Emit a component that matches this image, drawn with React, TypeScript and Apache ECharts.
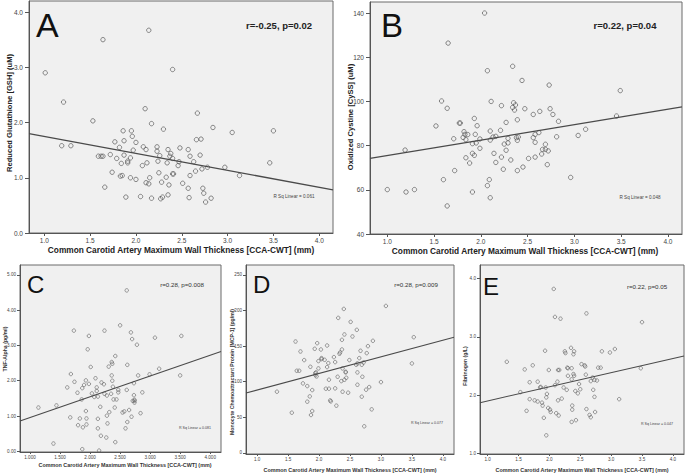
import React, { useEffect, useRef } from "react";
import * as echarts from "echarts";

// ---------- DATA ----------
// Panel A: CCA-CWT (mm) vs Reduced Glutathione [GSH] (uM)
const pointsA: number[][] = [
  [1.01, 2.9], [1.21, 2.37], [1.19, 1.58], [1.29, 1.58], [1.53, 2.03], [1.64, 3.5], [2.14, 3.67],
  [2.4, 2.96], [2.1, 2.25], [2.17, 1.98], [2.3, 1.88], [2.67, 2.17], [2.84, 1.91], [3.05, 1.82],
  [3.5, 1.85], [3.46, 1.27], [3.13, 1.04], [2.97, 1.19], [2.78, 1.19], [2.72, 1.16], [2.71, 1.7],
  [2.66, 1.69], [2.7, 1.41], [2.63, 1.29], [2.59, 1.39], [2.57, 1.51], [2.48, 1.54], [2.65, 1.12],
  [2.59, 1.04], [2.73, 0.81], [2.74, 0.72], [2.76, 0.56], [2.82, 0.63], [2.58, 0.64], [2.57, 0.81],
  [2.51, 0.9], [2.4, 1.07], [2.41, 1.07], [2.46, 1.22], [2.47, 1.29], [2.4, 1.35], [2.37, 1.39],
  [2.38, 1.44], [2.35, 1.51], [2.23, 1.56], [2.23, 1.48], [2.26, 1.4], [2.24, 1.3], [2.34, 1.27],
  [2.33, 1.01], [2.25, 1.09], [2.28, 0.92], [2.36, 0.87], [2.35, 0.69], [2.29, 0.65], [2.27, 0.62],
  [2.17, 0.63], [2.05, 0.66], [1.89, 0.65], [2.14, 0.89], [2.11, 0.91], [2.15, 1.0], [2.12, 1.27],
  [2.07, 1.22], [2.11, 1.51], [2.08, 1.56], [2.0, 1.64], [1.97, 1.5], [1.96, 1.75], [1.95, 1.85],
  [1.86, 1.85], [1.87, 1.67], [1.77, 1.65], [1.82, 1.55], [1.87, 1.41], [1.94, 1.36], [1.91, 1.3],
  [1.91, 1.27], [1.84, 1.26], [1.79, 1.35], [1.72, 1.42], [1.62, 1.39], [1.59, 1.39], [1.64, 1.39],
  [1.74, 1.1], [1.83, 1.03], [1.85, 1.04], [1.94, 1.0], [2.0, 0.97], [1.66, 0.83]
];
const fitA: number[][] = [[0.833, 1.8], [4.15, 0.78]];

// Panel B: CCA-CWT (mm) vs Oxidized Cystine [CySS] (uM)
const pointsB: number[][] = [
  [1.0, 60.1], [1.2, 59.0], [1.29, 60.1], [1.19, 78.0], [1.52, 88.9], [1.58, 100.2], [1.64, 96.9],
  [1.65, 126.4], [1.6, 64.6], [1.64, 52.7], [1.72, 68.7], [1.71, 83.1], [1.77, 90.2], [1.78, 90.2],
  [1.82, 86.3], [1.81, 83.7], [1.84, 82.7], [1.83, 85.1], [1.86, 85.0], [1.84, 74.5], [1.88, 72.1],
  [1.91, 76.5], [1.93, 75.6], [1.93, 92.3], [1.96, 89.0], [1.91, 80.9], [1.95, 81.2], [1.94, 85.1],
  [1.99, 78.8], [1.99, 83.0], [1.91, 59.0], [2.04, 140.0], [2.07, 113.9], [2.11, 100.0], [2.1, 82.5],
  [2.1, 86.6], [2.13, 83.9], [2.14, 76.5], [2.16, 72.4], [2.16, 84.2], [2.07, 61.9], [2.09, 64.6],
  [2.1, 56.4], [2.21, 86.9], [2.22, 98.1], [2.27, 90.5], [2.25, 80.7], [2.27, 77.9], [2.29, 81.2],
  [2.29, 83.3], [2.22, 74.8], [2.24, 69.3], [2.32, 73.5], [2.34, 115.9], [2.34, 97.3], [2.35, 99.4],
  [2.36, 96.1], [2.37, 98.4], [2.38, 83.6], [2.4, 83.9], [2.39, 82.4], [2.39, 91.7], [2.39, 68.7],
  [2.44, 109.5], [2.47, 96.7], [2.45, 70.3], [2.51, 74.2], [2.56, 94.1], [2.56, 83.6], [2.58, 85.1],
  [2.58, 81.5], [2.62, 85.9], [2.58, 74.8], [2.63, 95.5], [2.65, 76.2], [2.66, 78.3], [2.69, 80.6],
  [2.69, 78.3], [2.72, 77.6], [2.73, 107.4], [2.71, 71.4], [2.74, 96.7], [2.77, 94.1], [2.83, 91.0],
  [2.81, 84.0], [2.96, 65.6], [3.04, 84.6], [3.12, 87.4], [3.45, 93.4], [3.49, 104.9]
];
const fitB: number[][] = [[0.815, 74.2], [4.15, 97.5]];

// Panel C: CCA-CWT (mm) vs TNF-Alpha (pg/ml)
const pointsC: number[][] = [
  [1.14, 1.24], [1.39, 0.22], [1.44, 1.3], [1.62, 1.81], [1.68, 2.19], [1.67, 0.96], [1.73, 3.42],
  [1.74, 1.97], [1.79, 1.66], [1.8, 0.74], [1.83, 0.93], [1.86, 1.47], [1.87, 1.79], [1.88, 0.68],
  [1.87, 0.06], [1.9, 1.88], [1.93, 2.01], [1.93, 1.14], [1.94, 0.76], [1.94, 0.93], [1.96, 2.89],
  [1.98, 1.91], [1.98, 3.27], [2.01, 2.39], [2.03, 1.64], [2.07, 1.54], [2.09, 2.07], [2.11, 1.81],
  [2.11, 1.71], [2.13, 1.55], [2.13, 0.92], [2.13, 0.65], [2.15, 0.02], [2.17, 1.26], [2.19, 1.95],
  [2.18, 0.44], [2.24, 3.42], [2.23, 1.9], [2.24, 1.63], [2.27, 0.39], [2.28, 1.58], [2.28, 1.01],
  [2.29, 0.79], [2.31, 2.4], [2.32, 1.11], [2.35, 1.63], [2.36, 2.15], [2.37, 2.48], [2.36, 2.53],
  [2.37, 2.0], [2.38, 1.83], [2.39, 1.47], [2.41, 1.24], [2.42, 2.7], [2.42, 0.26], [2.44, 1.47],
  [2.47, 1.67], [2.47, 1.74], [2.5, 3.57], [2.54, 1.1], [2.57, 1.13], [2.59, 0.65], [2.61, 4.56],
  [2.61, 1.74], [2.62, 2.45], [2.62, 0.83], [2.65, 1.17], [2.68, 3.37], [2.7, 3.18], [2.69, 0.98],
  [2.71, 1.43], [2.73, 1.59], [2.73, 1.93], [2.74, 1.43], [2.74, 1.38], [2.74, 1.46], [2.78, 3.02],
  [2.8, 2.15], [2.84, 1.08], [2.87, 1.67], [2.99, 2.18], [3.08, 3.22], [3.15, 2.34], [3.5, 2.15],
  [3.52, 3.27]
];
const fitC: number[][] = [[0.833, 0.86], [4.18, 2.83]];

// Panel D: CCA-CWT (mm) vs MCP-1 (pg/ml)
const pointsD: number[][] = [
  [1.32, 86.0], [1.56, 56.5], [1.62, 156.5], [1.7, 142.5], [1.64, 115.4], [1.68, 115.4], [1.76, 130.4],
  [1.74, 97.7], [1.81, 93.9], [1.81, 72.0], [1.85, 79.4], [1.86, 121.0], [1.87, 53.3], [1.89, 58.9],
  [1.89, 88.3], [1.93, 146.3], [1.94, 109.3], [1.94, 112.1], [1.95, 113.1], [1.96, 107.5], [1.97, 154.2],
  [1.99, 118.7], [1.99, 129.0], [2.03, 145.3], [2.04, 131.8], [2.04, 133.2], [2.09, 130.8], [2.11, 90.2],
  [2.13, 150.9], [2.15, 126.2], [2.13, 120.6], [2.16, 102.8], [2.16, 90.2], [2.18, 73.8], [2.19, 72.4],
  [2.24, 134.6], [2.26, 127.6], [2.26, 90.7], [2.28, 66.4], [2.3, 107.0], [2.31, 189.7], [2.33, 139.3],
  [2.34, 141.1], [2.36, 100.9], [2.37, 145.3], [2.37, 158.9], [2.38, 118.7], [2.38, 86.0], [2.4, 202.3],
  [2.41, 166.4], [2.41, 102.8], [2.43, 114.0], [2.44, 105.6], [2.43, 113.1], [2.47, 84.6], [2.49, 130.4],
  [2.51, 184.1], [2.54, 163.6], [2.61, 172.9], [2.6, 123.8], [2.62, 125.7], [2.62, 113.1], [2.62, 95.8],
  [2.65, 133.2], [2.67, 143.5], [2.69, 123.8], [2.69, 79.0], [2.7, 107.0], [2.72, 127.1], [2.73, 37.4],
  [2.76, 88.8], [2.77, 140.2], [2.79, 150.0], [2.81, 92.5], [2.85, 61.2], [2.87, 157.5], [3.0, 99.5],
  [3.08, 206.5], [3.5, 125.7], [3.53, 162.6]
];
const fitD: number[][] = [[0.82, 84.1], [4.18, 162.6]];

// Panel E: CCA-CWT (mm) vs Fibrinogen (g/L)
const pointsE: number[][] = [
  [1.31, 2.57], [1.53, 2.05], [1.6, 2.44], [1.63, 1.73], [1.68, 1.93], [1.68, 2.22], [1.73, 2.51],
  [1.76, 1.91], [1.81, 1.89], [1.81, 2.23], [1.85, 2.13], [1.86, 2.14], [1.89, 1.82], [1.88, 1.87],
  [1.91, 1.61], [1.93, 2.76], [1.94, 2.13], [1.95, 1.96], [1.96, 2.02], [1.95, 1.31], [1.98, 1.78],
  [1.99, 2.43], [2.01, 1.75], [2.02, 1.71], [2.07, 3.82], [2.09, 2.17], [2.09, 3.34], [2.11, 1.69],
  [2.13, 2.23], [2.14, 2.43], [2.14, 1.91], [2.15, 1.65], [2.16, 2.43], [2.18, 3.31], [2.2, 1.94],
  [2.23, 2.13], [2.25, 2.75], [2.26, 2.72], [2.28, 2.09], [2.29, 2.47], [2.3, 2.46], [2.3, 2.33],
  [2.35, 2.81], [2.36, 2.46], [2.36, 2.27], [2.37, 1.82], [2.37, 1.75], [2.36, 1.54], [2.39, 2.7],
  [2.4, 2.75], [2.39, 2.36], [2.4, 2.33], [2.42, 2.07], [2.43, 1.57], [2.46, 2.03], [2.48, 2.19],
  [2.5, 2.1], [2.52, 2.53], [2.58, 2.49], [2.59, 2.35], [2.6, 3.4], [2.6, 1.76], [2.65, 1.66],
  [2.67, 1.62], [2.67, 2.24], [2.7, 2.3], [2.71, 2.09], [2.73, 1.97], [2.73, 2.26], [2.74, 1.71],
  [2.77, 2.25], [2.79, 2.47], [2.83, 2.47], [2.85, 2.75], [2.98, 2.73], [3.06, 2.79], [3.13, 1.93],
  [3.48, 2.46], [3.5, 3.25], [2.57, 2.51]
];
const fitE: number[][] = [[0.876, 1.87], [4.18, 2.67]];

const xTicks = [1.0, 1.5, 2.0, 2.5, 3.0, 3.5, 4.0];
const yTicksA = [0, 1, 2, 3, 4];
const yTicksB = [40, 60, 80, 100, 120, 140];
const yTicksC = [0, 1, 2, 3, 4, 5];
const yTicksD = [0, 50, 100, 150, 200, 250];
const yTicksE = [1, 2, 3, 4];

const xTitle = "Common Carotid Artery Maximum Wall Thickness [CCA-CWT] (mm)";
const yTitles = [
  "Reduced Glutathione [GSH] (uM)",
  "Oxidized Cystine [CySS] (uM)",
  "TNF-Alpha (pg/ml)",
  "Monocyte Chemoattractant Protein [MCP-1] (pg/ml)",
  "Fibrinogen (g/L)",
];
const panelLetters = ["A", "B", "C", "D", "E"];
const corrTexts = ["r=-0.25, p=0.02", "r=0.22, p=0.04", "r=0.28, p=0.008", "r=0.28, p=0.009", "r=0.22, p=0.05"];
const rsqTexts = ["R Sq Linear = 0.061", "R Sq Linear = 0.048", "R Sq Linear = 0.081", "R Sq Linear = 0.077", "R Sq Linear = 0.047"];

// ---------- CHART ----------
const FONT = "Liberation Sans, Arial, sans-serif";
const AX = "#555";

export default function App() {
  const ref = useRef<HTMLDivElement>(null);
  useEffect(() => {
    if (!ref.current) return;
    const chart = echarts.init(ref.current, undefined, { renderer: "svg" });

    const grids = [
      { left: 29, top: 1, width: 304, height: 232 },
      { left: 370, top: 2, width: 312, height: 232 },
      { left: 20, top: 265, width: 201, height: 187 },
      { left: 246, top: 265, width: 208, height: 189 },
      { left: 480, top: 265, width: 204, height: 189 },
    ].map((g) => ({ ...g, show: true, backgroundColor: "#f0f0f0", borderColor: "#6a6a6a", borderWidth: 1, containLabel: false }));

    const xRanges = [[0.833, 4.15], [0.815, 4.15], [0.833, 4.18], [0.82, 4.18], [0.876, 4.18]];
    const yRanges = [[0, 4.2], [40, 145], [-0.02, 5.28], [-1.5, 264], [0.99, 4.23]];
    const yTickSets = [yTicksA, yTicksB, yTicksC, yTicksD, yTicksE];
    const xFmt = [
      (v: number) => v.toFixed(1), (v: number) => v.toFixed(1), (v: number) => v.toFixed(3),
      (v: number) => v.toFixed(1), (v: number) => v.toFixed(1),
    ];
    const yFmt = [
      (v: number) => v.toFixed(1), (v: number) => String(v), (v: number) => v.toFixed(2),
      (v: number) => String(v), (v: number) => v.toFixed(1),
    ];
    const big = [true, true, false, false, false];

    const xAxis = grids.map((_, i) => ({
      type: "value", gridIndex: i, min: xRanges[i][0], max: xRanges[i][1],
      axisLine: { show: true, onZero: false, lineStyle: { color: AX, width: 1 } },
      axisTick: { show: true, customValues: xTicks, length: big[i] ? 3 : 2, lineStyle: { color: AX } },
      axisLabel: { customValues: xTicks, formatter: xFmt[i], fontSize: big[i] ? 6.5 : 4.6, color: "#444", margin: big[i] ? 4 : 3, fontFamily: FONT },
      splitLine: { show: false },
    }));
    const yAxis = grids.map((_, i) => ({
      type: "value", gridIndex: i, min: yRanges[i][0], max: yRanges[i][1],
      axisLine: { show: true, onZero: false, lineStyle: { color: AX, width: 1 } },
      axisTick: { show: true, customValues: yTickSets[i], length: big[i] ? 4 : 3, lineStyle: { color: AX } },
      axisLabel: { customValues: yTickSets[i], formatter: yFmt[i], fontSize: big[i] ? 6.5 : 4.6, color: "#444", margin: big[i] ? 6 : 4, fontFamily: FONT },
      splitLine: { show: false },
    }));

    const pts = [pointsA, pointsB, pointsC, pointsD, pointsE];
    const fits = [fitA, fitB, fitC, fitD, fitE];
    const series: any[] = [];
    pts.forEach((p, i) => {
      series.push({
        type: "scatter", xAxisIndex: i, yAxisIndex: i, data: p, symbol: "circle",
        symbolSize: big[i] ? 4.4 : 3.5,
        itemStyle: { color: "rgba(0,0,0,0)", borderColor: "#5a5a5a", borderWidth: big[i] ? 0.9 : 0.75 },
        silent: true,
      });
      series.push({
        type: "line", xAxisIndex: i, yAxisIndex: i, data: fits[i], symbol: "none",
        lineStyle: { color: "#4a4a4a", width: big[i] ? 1.3 : 1.1 }, silent: true,
      });
    });

    const txt = (text: string, x: number, y: number, fontSize: number, opts: any = {}) => ({
      type: "text", x, y, rotation: opts.rotation || 0, silent: true, z: 100,
      style: {
        text, fontSize, fontFamily: FONT, fontWeight: opts.bold ? "bold" : "normal",
        fill: opts.fill || "#222", align: opts.align || "center", verticalAlign: opts.va || "middle",
      },
    });

    const graphic: any[] = [
      // panel letters
      txt("A", 36, 25, 34, { align: "left", fill: "#111" }),
      txt("B", 381, 25, 33, { align: "left", fill: "#111" }),
      txt("C", 27, 284, 24, { align: "left", fill: "#111" }),
      txt("D", 253, 284, 24, { align: "left", fill: "#111" }),
      txt("E", 483, 286, 24, { align: "left", fill: "#111" }),
      // correlation texts
      txt(corrTexts[0], 279, 25, 9.5, { bold: true }),
      txt(corrTexts[1], 625, 25, 9.5, { bold: true }),
      txt(corrTexts[2], 182, 284, 6.2, { fill: "#333" }),
      txt(corrTexts[3], 416, 284, 6.2, { fill: "#333" }),
      txt(corrTexts[4], 647, 286, 6.2, { fill: "#333" }),
      // R Sq texts
      txt(rsqTexts[0], 294, 196, 4.6, { fill: "#444" }),
      txt(rsqTexts[1], 640, 197, 4.6, { fill: "#444" }),
      txt(rsqTexts[2], 195, 428, 3.6, { fill: "#444" }),
      txt(rsqTexts[3], 427, 423, 3.6, { fill: "#444" }),
      txt(rsqTexts[4], 657, 424, 3.6, { fill: "#444" }),
      // x titles
      txt(xTitle, 181, 250, 8.3, { bold: true }),
      txt(xTitle, 525, 251, 8.3, { bold: true }),
      txt(xTitle, 125, 465, 5.4, { bold: true, fill: "#333" }),
      txt(xTitle, 350, 470, 5.4, { bold: true, fill: "#333" }),
      txt(xTitle, 582, 470, 5.4, { bold: true, fill: "#333" }),
      // y titles
      txt(yTitles[0], 9, 113, 7.6, { bold: true, rotation: Math.PI / 2 }),
      txt(yTitles[1], 350, 117, 7.6, { bold: true, rotation: Math.PI / 2 }),
      txt(yTitles[2], 5, 349, 5.2, { bold: true, rotation: Math.PI / 2, fill: "#333" }),
      txt(yTitles[3], 232, 372, 5.2, { bold: true, rotation: Math.PI / 2, fill: "#333" }),
      txt(yTitles[4], 465, 366, 5.2, { bold: true, rotation: Math.PI / 2, fill: "#333" }),
    ];

    chart.setOption({
      animation: false,
      backgroundColor: "#ffffff",
      textStyle: { fontFamily: FONT },
      grid: grids,
      xAxis,
      yAxis,
      series,
      graphic,
    });
    return () => chart.dispose();
  }, []);

  return <div ref={ref} style={{ position: "fixed", left: 0, top: 0, width: 685, height: 474 }} />;
}
